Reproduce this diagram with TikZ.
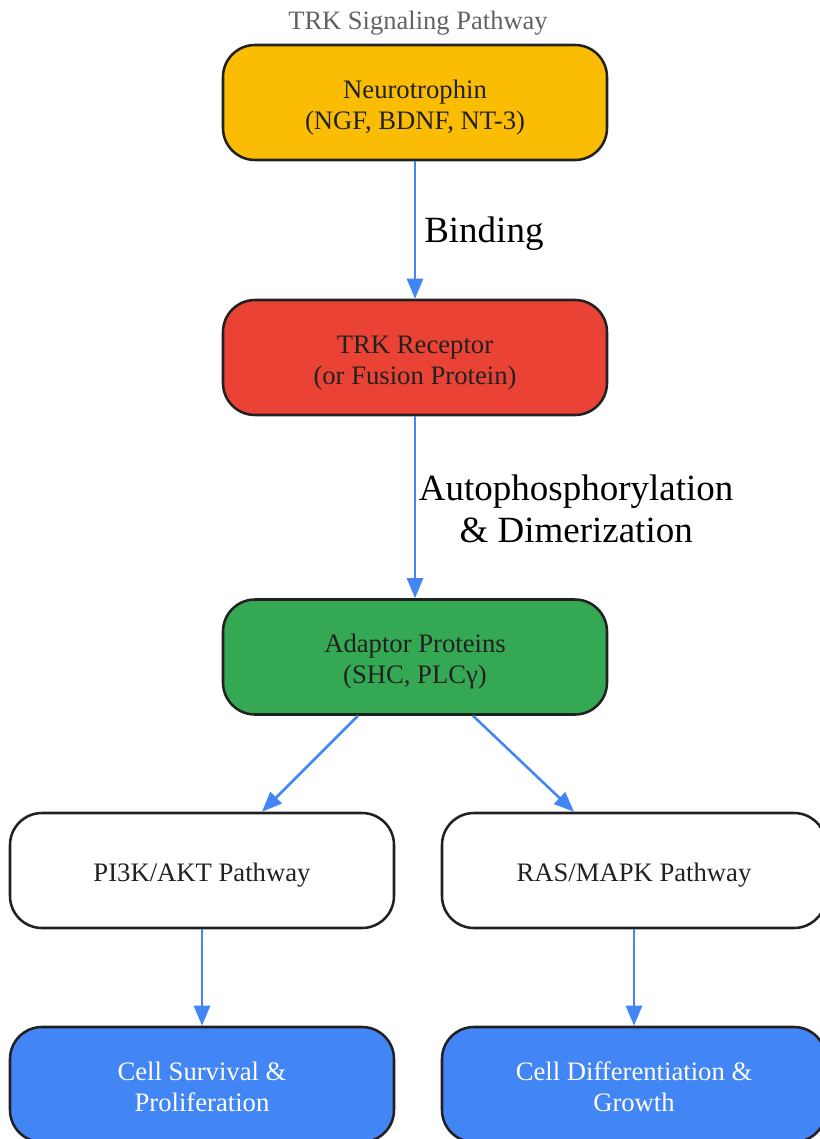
\documentclass[tikz,border=0pt]{standalone}
\usepackage{fontspec}
\setmainfont{Liberation Serif}
\usetikzlibrary{arrows.meta}
\definecolor{gyellow}{HTML}{FBBC04}
\definecolor{gred}{HTML}{EA4335}
\definecolor{ggreen}{HTML}{34A853}
\definecolor{gblue}{HTML}{4285F4}
\definecolor{ggray}{HTML}{5F6368}
\definecolor{border}{HTML}{212121}
% box text, set a little lower than the centre
\newcommand\boxlines[1]{\raisebox{-3.75pt}[\height][\depth]{\begin{tabular}{@{}c@{}}#1\end{tabular}}}
\tikzset{
  box/.style={shape=rectangle,rounded corners=24pt,draw=border,line width=1.9pt,
    minimum width=288pt,minimum height=86.25pt,inner sep=0pt,text=border,
    font=\fontsize{20}{23.25}\selectfont},
  link/.style={draw=gblue,line width=1.9pt,-{Triangle[length=15pt,width=12pt]}},
  lbl/.style={font=\fontsize{27.75}{31.5}\selectfont,align=center,text=black}
}
\begin{document}
\begin{tikzpicture}[x=0.75pt,y=-0.75pt]
		\useasboundingbox (0,0) rectangle (820,1139);
		\node[text=ggray,font=\fontsize{19.9}{24}\selectfont] (T) at (418,23) {TRK Signaling Pathway};
		
		\node[box,fill=gyellow] (N) at (415,102.5) {\boxlines{Neurotrophin\\(NGF, BDNF, NT-3)}};
		\node[box,fill=gred] (R) at (415,357.5) {\boxlines{TRK Receptor\\(or Fusion Protein)}};
		\node[box,fill=ggreen] (A) at (415,657) {\boxlines{Adaptor Proteins\\(SHC, PLCγ)}};
		\node[box,fill=white] (P) at (202,870.5) {\boxlines{PI3K/AKT Pathway}};
		\node[box,fill=white] (M) at (634,870.5) {\boxlines{RAS/MAPK Pathway}};
		\node[box,fill=gblue,text=white] (S) at (202,1084.5) {\boxlines{Cell Survival \&\\Proliferation}};
		\node[box,fill=gblue,text=white] (D) at (634,1084.5) {\boxlines{Cell Differentiation \&\\Growth}};
		
		\path[link] (N) -- node[lbl,right,inner sep=6pt,yshift=-3pt] {Binding} (R);
		\path[link] (R) -- node[lbl,right,inner sep=2pt,yshift=-1.5pt] {Autophosphorylation\\\& Dimerization} (A);
		\path[link] ([xshift=-42.75pt]A.south) -- ([xshift=45pt]P.north);
		\path[link] ([xshift=43.5pt]A.south) -- ([xshift=-45pt]M.north);
		\path[link] (P) -- (S);
		\path[link] (M) -- (D);
		\end{tikzpicture}
\end{document}
